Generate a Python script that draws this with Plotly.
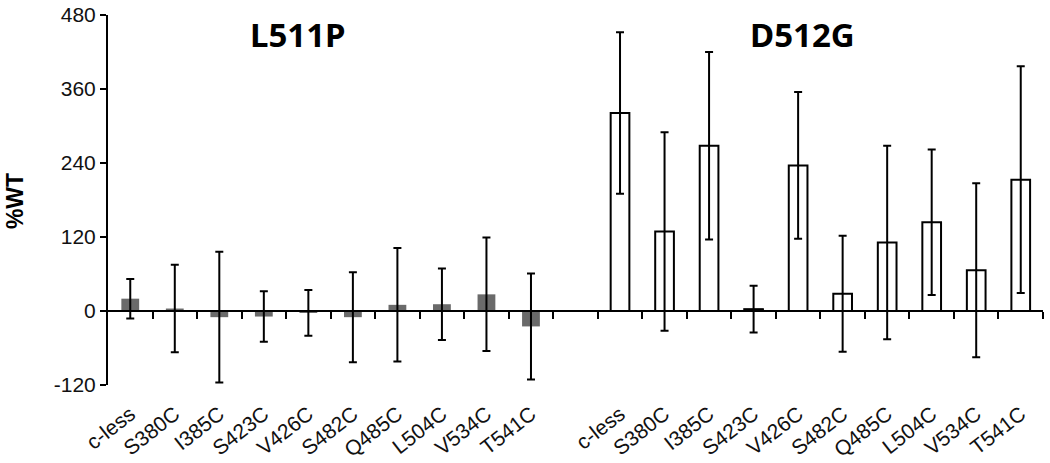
import plotly.graph_objects as go

categories = ["c-less", "S380C", "I385C", "S423C", "V426C", "S482C", "Q485C", "L504C", "V534C", "T541C"]

l511p_values = [20, 4, -10, -9, -3, -10, 10, 11, 27, -25]
l511p_errors = [32, 71, 106, 41, 37, 73, 92, 58, 92, 86]

d512g_values = [321, 129, 268, 3, 236, 28, 111, 144, 66, 213]
d512g_errors = [131, 161, 152, 38, 119, 94, 157, 118, 141, 184]

y_ticks = [-120, 0, 120, 240, 360, 480]
y_tick_labels = ["-120", "0", "120", "240", "360", "480"]

n = len(categories)
left_x = list(range(n))
right_x = [i + n + 1 for i in range(n)]
all_x = left_x + right_x
total_slots = 2 * n + 1
x_range = [-0.5, total_slots - 0.5]

fig = go.Figure()

fig.add_trace(go.Bar(
    x=left_x, y=l511p_values, width=0.4,
    marker=dict(color="#6a6a6a", line=dict(width=0)),
    error_y=dict(type="data", array=l511p_errors, color="black", thickness=2, width=4),
    showlegend=False,
))
fig.add_trace(go.Bar(
    x=right_x, y=d512g_values, width=0.42,
    marker=dict(color="white", line=dict(color="black", width=2)),
    error_y=dict(type="data", array=d512g_errors, color="black", thickness=2, width=4),
    showlegend=False,
))

label_font = dict(family="Liberation Sans, Arial, sans-serif", size=21, color="#111111")

fig.update_layout(
    width=1050, height=463,
    margin=dict(l=108, r=7, t=15, b=78),
    plot_bgcolor="white", paper_bgcolor="white",
    bargap=0.6,
    xaxis=dict(
        range=x_range, tickmode="array", tickvals=all_x, ticktext=categories + categories,
        tickangle=-38, tickfont=label_font, showline=False, ticks="", showgrid=False,
        zeroline=False, automargin=False, ticklabelstandoff=12, ticklabeloverflow="allow",
    ),
    xaxis2=dict(
        overlaying="x", anchor="free", position=120 / 600, range=x_range,
        tickmode="array", tickvals=[i + 0.5 for i in range(total_slots)],
        showticklabels=False, ticks="outside", ticklen=7, tickwidth=2, tickcolor="black",
        showline=True, linecolor="black", linewidth=2, showgrid=False, zeroline=False,
        automargin=False,
    ),
    yaxis=dict(
        range=[-120, 480], tickmode="array", tickvals=y_ticks, ticktext=y_tick_labels,
        domain=[0, 1],
        tickfont=label_font, showline=True, linecolor="black", linewidth=2,
        ticks="outside", ticklen=6, tickwidth=2, tickcolor="black",
        showgrid=False, zeroline=False, automargin=False, ticklabeloverflow="allow",
    ),
    annotations=[
        dict(text="<b>%WT</b>", xref="paper", yref="paper", x=-0.0995, y=0.497,
             xanchor="center", yanchor="middle",
             textangle=-90, showarrow=False,
             font=dict(family="Liberation Sans, Arial, sans-serif", size=23, color="black")),
        dict(text="<b>L511P</b>", xref="x", yref="y", x=3.77, y=449, showarrow=False,
             font=dict(family="Noto Sans, sans-serif", size=33, color="black")),
        dict(text="<b>D512G</b>", xref="x", yref="y", x=15.1, y=449, showarrow=False,
             font=dict(family="Noto Sans, sans-serif", size=33, color="black")),
    ],
)

# invisible trace so the zero-line axis renders
fig.add_trace(go.Scatter(x=[x_range[0]], y=[0], xaxis="x2", mode="markers",
                         marker=dict(opacity=0), showlegend=False, hoverinfo="skip"))

fig.write_html(
    "out.html",
    config={"displayModeBar": False},
    post_script="document.body.style.margin='0';document.body.style.overflow='hidden';",
)
